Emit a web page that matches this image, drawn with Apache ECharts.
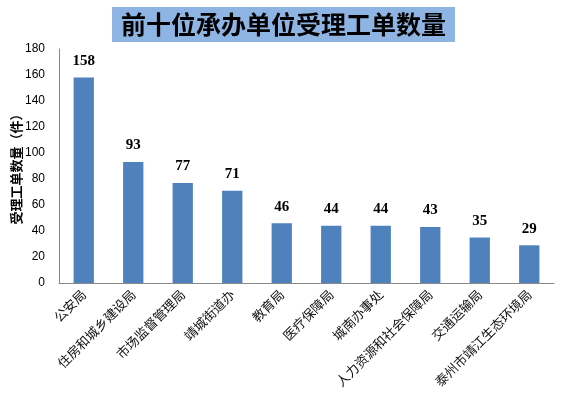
<!DOCTYPE html>
<html>
<head>
<meta charset="utf-8">
<script src="https://cdn.jsdelivr.net/npm/echarts@6/dist/echarts.min.js"></script>
<style>
  html, body { margin: 0; padding: 0; background: #fff; }
  #chart { width: 567px; height: 405px; }
</style>
</head>
<body>
<div id="chart"></div>
<script>
const categories = ['公安局', '住房和城乡建设局', '市场监督管理局', '靖城街道办', '教育局', '医疗保障局', '城南办事处', '人力资源和社会保障局', '交通运输局', '泰州市靖江生态环境局']
const counts = [158, 93, 77, 71, 46, 44, 44, 43, 35, 29]

const chart = echarts.init(document.getElementById('chart'))
chart.setOption({
  animation: false,
  title: {
    text: '前十位承办单位受理工单数量',
    left: 'center',
    top: 7,
    backgroundColor: '#8DB4E2',
    padding: [5, 9, 5, 9],
    textStyle: {
      fontFamily: 'Noto Sans CJK SC',
      fontSize: 25,
      fontWeight: 'bold',
      color: '#000'
    }
  },
  grid: {
    left: 59,
    right: 13,
    top: 49,
    bottom: 122,
    outerBoundsMode: 'none'
  },
  xAxis: {
    type: 'category',
    data: categories,
    axisLine: { lineStyle: { color: '#888' } },
    axisTick: { show: false },
    axisLabel: {
      interval: 0,
      rotate: 45,
      color: '#111',
      fontSize: 13,
      margin: 9,
      fontFamily: 'Noto Sans CJK SC'
    }
  },
  yAxis: {
    type: 'value',
    min: 0,
    max: 180,
    interval: 20,
    name: '受理工单数量（件）',
    nameLocation: 'middle',
    nameGap: 36,
    nameMoveOverlap: false,
    nameTextStyle: {
      fontFamily: 'Noto Sans CJK SC',
      fontWeight: 'bold',
      fontSize: 13,
      color: '#000'
    },
    axisLine: { show: true, lineStyle: { color: '#888' } },
    axisTick: { show: false },
    splitLine: { show: false },
    axisLabel: {
      color: '#000',
      fontSize: 12,
      margin: 14,
      fontFamily: 'Liberation Sans'
    }
  },
  series: [{
    type: 'bar',
    data: counts,
    barWidth: '41%',
    itemStyle: { color: '#4F81BD' },
    label: {
      show: true,
      position: 'top',
      distance: 9,
      color: '#000',
      fontSize: 15,
      fontWeight: 'bold',
      fontFamily: 'Liberation Serif'
    }
  }]
})
</script>
</body>
</html>
